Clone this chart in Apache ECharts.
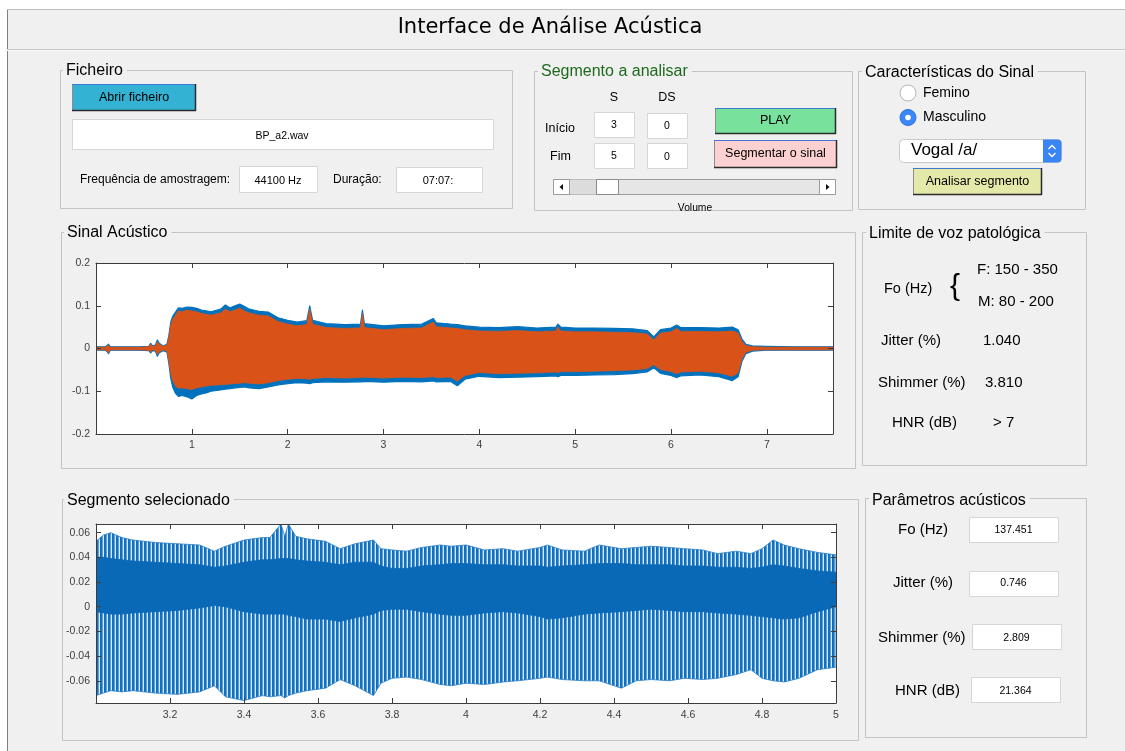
<!DOCTYPE html>
<html><head><meta charset="utf-8">
<script src="https://cdn.jsdelivr.net/npm/echarts@6/dist/echarts.min.js"></script>
<style>html,body{margin:0;padding:0;background:#fff}#c{width:1125px;height:751px}</style>
</head><body><div id="c"></div>
<script>
// ---- Sinal Acústico: envelope of the full signal (time in s) ----
const sigT = [0.00,0.05,0.10,0.12,0.13,0.15,0.30,0.45,0.55,0.57,
  0.59,0.62,0.64,0.66,0.70,0.74,0.76,0.78,0.80,0.83,
  0.86,0.90,0.95,1.00,1.05,1.10,1.15,1.20,1.30,1.35,
  1.40,1.45,1.50,1.55,1.60,1.70,1.80,1.90,2.00,2.10,
  2.20,2.23,2.26,2.40,2.60,2.76,2.78,2.80,3.00,3.20,
  3.40,3.52,3.55,3.70,3.77,3.85,4.00,4.20,4.40,4.60,
  4.80,4.82,4.85,5.00,5.20,5.40,5.60,5.75,5.82,5.89,
  6.00,6.06,6.10,6.30,6.50,6.64,6.70,6.74,6.78,6.85,
  7.00,7.30,7.69];
const blueUp = [0.004,0.004,0.004,0.008,0.010,0.004,0.004,0.004,0.005,0.012,
  0.006,0.008,0.020,0.012,0.006,0.010,0.030,0.062,0.075,0.085,
  0.095,0.094,0.097,0.096,0.094,0.090,0.088,0.086,0.092,0.102,
  0.095,0.100,0.104,0.098,0.092,0.087,0.085,0.072,0.066,0.062,
  0.065,0.100,0.066,0.058,0.056,0.057,0.090,0.058,0.053,0.056,
  0.057,0.070,0.060,0.057,0.056,0.053,0.050,0.049,0.051,0.048,
  0.050,0.057,0.050,0.048,0.048,0.047,0.046,0.042,0.027,0.044,
  0.048,0.055,0.049,0.049,0.048,0.050,0.044,0.022,0.010,0.006,
  0.005,0.004,0.004];
const blueLo = [-0.004,-0.004,-0.004,-0.008,-0.012,-0.004,-0.004,-0.004,-0.005,-0.010,
  -0.005,-0.006,-0.018,-0.010,-0.005,-0.008,-0.035,-0.070,-0.090,-0.105,
  -0.112,-0.110,-0.113,-0.118,-0.110,-0.106,-0.104,-0.100,-0.097,-0.095,
  -0.094,-0.092,-0.091,-0.090,-0.092,-0.094,-0.090,-0.085,-0.082,-0.080,
  -0.081,-0.082,-0.080,-0.078,-0.079,-0.078,-0.078,-0.077,-0.079,-0.077,
  -0.078,-0.076,-0.078,-0.077,-0.087,-0.072,-0.065,-0.068,-0.067,-0.066,
  -0.064,-0.066,-0.063,-0.063,-0.062,-0.061,-0.059,-0.055,-0.045,-0.058,
  -0.063,-0.068,-0.064,-0.062,-0.066,-0.075,-0.066,-0.030,-0.012,-0.006,
  -0.004,-0.004,-0.004];
const orangeUp = [0.003,0.003,0.003,0.006,0.008,0.003,0.003,0.003,0.004,0.010,
  0.005,0.006,0.016,0.010,0.005,0.008,0.025,0.055,0.068,0.078,
  0.088,0.086,0.090,0.088,0.086,0.082,0.080,0.078,0.083,0.092,
  0.086,0.090,0.094,0.088,0.083,0.078,0.076,0.063,0.057,0.053,
  0.056,0.092,0.057,0.049,0.047,0.048,0.082,0.049,0.044,0.047,
  0.048,0.062,0.051,0.048,0.047,0.044,0.041,0.040,0.042,0.039,
  0.041,0.050,0.041,0.039,0.039,0.038,0.037,0.034,0.020,0.036,
  0.039,0.047,0.040,0.040,0.039,0.041,0.036,0.017,0.007,0.004,
  0.003,0.003,0.003];
const orangeLo = [-0.003,-0.003,-0.003,-0.006,-0.010,-0.003,-0.003,-0.003,-0.004,-0.008,
  -0.003,-0.004,-0.014,-0.008,-0.003,-0.006,-0.028,-0.058,-0.075,-0.088,
  -0.093,-0.092,-0.094,-0.096,-0.092,-0.090,-0.088,-0.086,-0.085,-0.084,
  -0.083,-0.082,-0.081,-0.080,-0.081,-0.083,-0.080,-0.075,-0.072,-0.070,
  -0.071,-0.072,-0.070,-0.068,-0.069,-0.068,-0.068,-0.067,-0.069,-0.067,
  -0.068,-0.066,-0.068,-0.067,-0.076,-0.063,-0.056,-0.059,-0.058,-0.057,
  -0.055,-0.057,-0.054,-0.054,-0.053,-0.052,-0.050,-0.047,-0.038,-0.049,
  -0.054,-0.059,-0.055,-0.053,-0.057,-0.065,-0.057,-0.024,-0.009,-0.004,
  -0.003,-0.003,-0.003];
const sigXTicks = [1,2,3,4,5,6,7];
const sigYTicks = [-0.2,-0.1,0,0.1,0.2];

// ---- Segmento selecionado: envelope (outer) and dense core ----
const segT = [3.00,3.02,3.04,3.07,3.10,3.16,3.22,3.28,3.32,3.35,
  3.40,3.45,3.47,3.50,3.51,3.52,3.54,3.57,3.62,3.66,
  3.70,3.75,3.77,3.80,3.84,3.88,3.93,3.96,4.00,4.05,
  4.10,4.14,4.20,4.22,4.26,4.32,4.36,4.42,4.46,4.50,
  4.55,4.59,4.64,4.68,4.73,4.77,4.80,4.83,4.86,4.90,
  4.95,5.00];
const segMax = [0.053,0.058,0.060,0.056,0.054,0.052,0.051,0.050,0.045,0.049,
  0.054,0.056,0.056,0.067,0.057,0.067,0.057,0.055,0.053,0.047,
  0.051,0.054,0.047,0.046,0.045,0.048,0.050,0.049,0.050,0.046,
  0.047,0.045,0.048,0.050,0.046,0.045,0.050,0.047,0.048,0.049,
  0.048,0.047,0.046,0.043,0.045,0.043,0.047,0.054,0.050,0.047,
  0.044,0.042];
const segMin = [-0.072,-0.070,-0.068,-0.069,-0.068,-0.070,-0.071,-0.069,-0.064,-0.073,
  -0.076,-0.072,-0.073,-0.072,-0.074,-0.072,-0.070,-0.068,-0.066,-0.059,
  -0.064,-0.072,-0.062,-0.058,-0.057,-0.059,-0.063,-0.064,-0.062,-0.063,
  -0.061,-0.060,-0.058,-0.057,-0.059,-0.060,-0.060,-0.066,-0.060,-0.059,
  -0.060,-0.058,-0.059,-0.058,-0.055,-0.051,-0.058,-0.060,-0.061,-0.058,
  -0.051,-0.049];
const segCoreUp = [0.040,0.040,0.039,0.038,0.037,0.036,0.035,0.034,0.032,0.033,
  0.036,0.038,0.038,0.039,0.039,0.039,0.038,0.037,0.036,0.034,
  0.036,0.036,0.033,0.031,0.031,0.033,0.034,0.035,0.035,0.034,
  0.034,0.033,0.033,0.032,0.033,0.034,0.035,0.035,0.034,0.034,
  0.034,0.033,0.033,0.032,0.032,0.031,0.032,0.034,0.033,0.031,
  0.029,0.028];
const segCoreLo = [-0.004,-0.005,-0.006,-0.006,-0.005,-0.004,-0.003,-0.001,0.001,0.000,
  -0.004,-0.006,-0.006,-0.006,-0.006,-0.007,-0.008,-0.010,-0.010,-0.012,
  -0.009,-0.006,-0.003,-0.002,-0.002,-0.004,-0.006,-0.007,-0.007,-0.005,
  -0.004,-0.005,-0.008,-0.010,-0.009,-0.006,-0.005,-0.004,-0.003,-0.002,
  -0.003,-0.004,-0.004,-0.005,-0.006,-0.007,-0.008,-0.009,-0.010,-0.009,
  -0.004,0.000];
const segXTicks = [3.2,3.4,3.6,3.8,4,4.2,4.4,4.6,4.8,5];
const segYTicks = [-0.06,-0.04,-0.02,0,0.02,0.04,0.06];

// ---- GUI texts ----
const limitLabels = ['Jitter (%)','Shimmer (%)','HNR (dB)'];
const limitValues = ['1.040','3.810','> 7'];
const paramLabels = ['Fo (Hz)','Jitter (%)','Shimmer (%)','HNR (dB)'];
const paramValues = ['137.451','0.746','2.809','21.364'];

const F = '"Liberation Sans", Arial, Helvetica, sans-serif';
const G = [];
function R(x,y,w,h,fill,stroke,r,z){G.push({type:'rect',silent:true,z:z||0,shape:{x:x,y:y,width:w,height:h,r:r||0},style:{fill:fill||'none',stroke:stroke||null,lineWidth:1}});}
function L(x1,y1,x2,y2,stroke,lw){G.push({type:'line',silent:true,z:1,shape:{x1:x1,y1:y1,x2:x2,y2:y2},style:{stroke:stroke,lineWidth:lw||1}});}
function C(cx,cy,r,fill,stroke){G.push({type:'circle',silent:true,z:1,shape:{cx:cx,cy:cy,r:r},style:{fill:fill,stroke:stroke||null,lineWidth:1}});}
function P(pts,fill,stroke,lw,closed){G.push({type:closed?'polygon':'polyline',silent:true,z:2,shape:{points:pts},style:{fill:fill||'none',stroke:stroke||null,lineWidth:lw||1}});}
function T(x,y,s,size,o){o=o||{};const a=o.align||'left';
  const st={text:s,fill:o.fill||'#000',font:(o.weight||'normal')+' '+size+'px '+(o.family||F),align:a,verticalAlign:'middle',textAlign:a,textVerticalAlign:'middle'};
  if(o.bg){st.backgroundColor=o.bg;st.padding=o.pad||[0,3,0,3];}
  G.push({type:'text',silent:true,z:3,x:x,y:y,style:st});}
function panel(x,y,w,h,title,tx,ty,color){R(x+0.5,y+0.5,w,h,null,'#c4c4c4',0,1);T(tx-3,ty,title,16,{bg:'#f0f0f0',pad:[1,4,1,3],fill:color||'#000'});}
function box(x,y,w,h,label,cx,cy,size){R(x+0.5,y+0.5,w,h,'#ffffff','#d6d6d6',0,1);if(label!==undefined)T(cx,cy,label,size||10.5,{align:'center'});}
function btn(x,y,w,h,fill,label,size,ty){R(x,y,w,h,fill,null,0,1);
  L(x+0.5,y,x+0.5,y+h,'#8c8c8c',1);L(x,y+0.5,x+w,y+0.5,'#3f78d4',1);
  L(x,y+h-0.5,x+w,y+h-0.5,'#2b2b2b',1.5);L(x+w-0.5,y,x+w-0.5,y+h,'#2b2b2b',1.5);
  T(x+w/2,ty,label,size,{align:'center'});}

// window background and title bar
R(0,0,1125,751,'#ffffff',null,0,0);
R(7,9,1118,742,'#f0f0f0',null,0,0);
L(7.5,9,7.5,751,'#7f7f7f',1);
L(7,9.5,1125,9.5,'#bdbdbd',1);
L(7,49.5,1125,49.5,'#c6c6c6',1);
L(7,50.5,1125,50.5,'#fafafa',1);
T(550,28,'Interface de Análise Acústica',21,{align:'center',family:'"DejaVu Sans", sans-serif'});

// Ficheiro
panel(60,70,452,138,'Ficheiro',66,71);
btn(72,84,124,27,'#33b2d4','Abrir ficheiro',12.5,98);
box(72,119,421,30,'BP_a2.wav',282,136,10.5);
T(80,180,'Frequência de amostragem:',12);
box(239,166,78,26,'44100 Hz',278,180.5,11);
T(333,180,'Duração:',12);
box(396,167,86,25,'07:07:',438,180.5,11);

// Segmento a analisar
panel(534,71,318,139,'Segmento a analisar',541,72,'#1d6a1d');
T(614,98,'S',12.5,{align:'center'});
T(667,98,'DS',12.5,{align:'center'});
T(545,128.5,'Início',12.5);
T(550,157,'Fim',12.5);
box(594,112,40,25,'3',614,125,10.5);
box(647,113,40,25,'0',667,126,10.5);
box(594,143,40,25,'5',614,156,10.5);
box(647,143,40,25,'0',667,157,10.5);
btn(715,108,121,26,'#78e29c','PLAY',12.5,121);
btn(714,140,123,28,'#fdd1d1','Segmentar o sinal',12.5,154);
R(553.5,179.5,282,15,'#e6e6e6','#9c9c9c',0,1);
R(570.5,179.5,26,15,'#dcdcdc',null,0,1);
R(553.5,179.5,16,15,'#ffffff','#9c9c9c',0,1);
R(819.5,179.5,16,15,'#ffffff','#9c9c9c',0,1);
R(596.5,179.5,22,15,'#ffffff','#8a8a8a',0,1);
P([[563,184],[559.5,187],[563,190]],'#111',null,1,true);
P([[826,184],[829.5,187],[826,190]],'#111',null,1,true);
T(695,208,'Volume',10.3,{align:'center'});

// Características do Sinal
panel(858,71,227,138,'Características do Sinal',865,73);
C(908,93,8,'#ffffff','#b6b6b6');
T(923,93,'Femino',14);
C(908,117.5,8,'#3b87f7','#2f74e0');
C(908,117.5,2.8,'#ffffff',null);
T(923,117.5,'Masculino',14);
R(899.5,139.5,162,23,'#ffffff','#c9c9c9',4,1);
R(1043,139.5,18.5,23,'#3a85f6',null,[0,4,4,0],1);
P([[1048.5,149],[1052,145.5],[1055.5,149]],null,'#ffffff',1.3,false);
P([[1048.5,153],[1052,156.5],[1055.5,153]],null,'#ffffff',1.3,false);
T(911,150.5,'Vogal /a/',17);
btn(913,168,129,27,'#e4e9a9','Analisar segmento',12.5,182);

// Sinal Acústico and Segmento selecionado panels
panel(61,232,794,236,'Sinal Acústico',67,233);
panel(62,499,796,241,'Segmento selecionado',67,500.5);
R(96,263,737,171,'#ffffff',null,0,1);
R(96,524,740,179,'#ffffff',null,0,1);

// Limite de voz patológica
panel(862,232,224,233,'Limite de voz patológica',869,233.5);
T(884,289,'Fo (Hz)',14.5);
T(955,287,'{',30,{align:'center'});
T(977,270,'F: 150 - 350',15);
T(978,301.5,'M: 80 - 200',15);
const limX=[881,878,892], limY=[340.5,382.5,422.5], limVX=[983,985,993];
limitLabels.forEach(function(s,i){T(limX[i],limY[i],s,15);T(limVX[i],limY[i],limitValues[i],15);});

// Parâmetros acústicos
panel(865,498,221,239,'Parâmetros acústicos',872,500.5);
const parX=[898,893,878,895], parY=[530,583,637.5,691], boxX=[969,969,972,971], boxY=[517,571,624,677];
paramLabels.forEach(function(s,i){T(parX[i],parY[i],s,15);box(boxX[i],boxY[i],89,25,paramValues[i],boxX[i]+44.5,parY[i]+0.5,10.5);});

// striped fill for the dense periods of the selected segment
const pat = document.createElement('canvas'); pat.width = 4; pat.height = 2;
const pg = pat.getContext('2d');
['#0b6fbc','#1574c0','#5a9fd8','#dce9f6'].forEach(function(c,i){pg.fillStyle=c;pg.fillRect(i,0,1,2);});

// a band series: one polygon between lower and upper envelope, built through the axes
function band(xi,yi,t,lo,up,fill,stroke,lw){
  return {type:'custom',xAxisIndex:xi,yAxisIndex:yi,clip:true,silent:true,z:5,
    data:t.map(function(x,i){return [x,lo[i],up[i]];}),
    encode:{x:0,y:[1,2]},
    renderItem:function(params,api){
      if(params.dataIndexInside!==0) return null;
      const n=params.dataInsideLength, top=[], bot=[];
      for(let j=0;j<n;j++){
        top.push(api.coord([api.value(0,j),api.value(2,j)]));
        bot.push(api.coord([api.value(0,j),api.value(1,j)]));
      }
      return {type:'polygon',shape:{points:top.concat(bot.reverse())},
        style:{fill:fill,stroke:stroke,lineWidth:lw,lineJoin:'round'}};
    }};
}
function ax(gi,pos,min,max,ticks,labels,margin){
  return {type:'value',gridIndex:gi,position:pos,min:min,max:max,z:10,
    axisLine:{show:true,onZero:false,lineStyle:{color:'#3c3c3c',width:1}},
    axisTick:{show:true,inside:true,length:5,customValues:ticks,lineStyle:{color:'#3c3c3c',width:1}},
    axisLabel:{show:!!labels,customValues:ticks,color:'#404040',fontSize:10.5,fontFamily:F,margin:margin||6},
    splitLine:{show:false}};
}

const chart = echarts.init(document.getElementById('c'), null, {renderer:'canvas'});
chart.setOption({
  animation:false,
  backgroundColor:'#ffffff',
  graphic:{elements:G},
  grid:[
    {left:96,top:263,width:737,height:171,containLabel:false,outerBoundsMode:'none',show:false},
    {left:96,top:524,width:740,height:179,containLabel:false,outerBoundsMode:'none',show:false}
  ],
  xAxis:[
    ax(0,'bottom',0,7.69,sigXTicks,true,6),
    ax(0,'top',0,7.69,sigXTicks,false),
    ax(1,'bottom',3,5,segXTicks,true,7),
    ax(1,'top',3,5,segXTicks,false)
  ],
  yAxis:[
    ax(0,'left',-0.2,0.2,sigYTicks,true,6),
    ax(0,'right',-0.2,0.2,sigYTicks,false),
    ax(1,'left',-0.078,0.067,segYTicks,true,6),
    ax(1,'right',-0.078,0.067,segYTicks,false)
  ],
  series:[
    band(0,0,sigT,blueLo,blueUp,'#0072bd','#0072bd',1.2),
    band(0,0,sigT,orangeLo,orangeUp,'#d95319','#d95319',0.8),
    band(2,2,segT,segMin,segMax,{image:pat,repeat:'repeat'},'#2a7fc6',0.8),
    band(2,2,segT,segCoreLo,segCoreUp,'#0a69b6','#0a69b6',0.8)
  ]
});
</script>
</body></html>
